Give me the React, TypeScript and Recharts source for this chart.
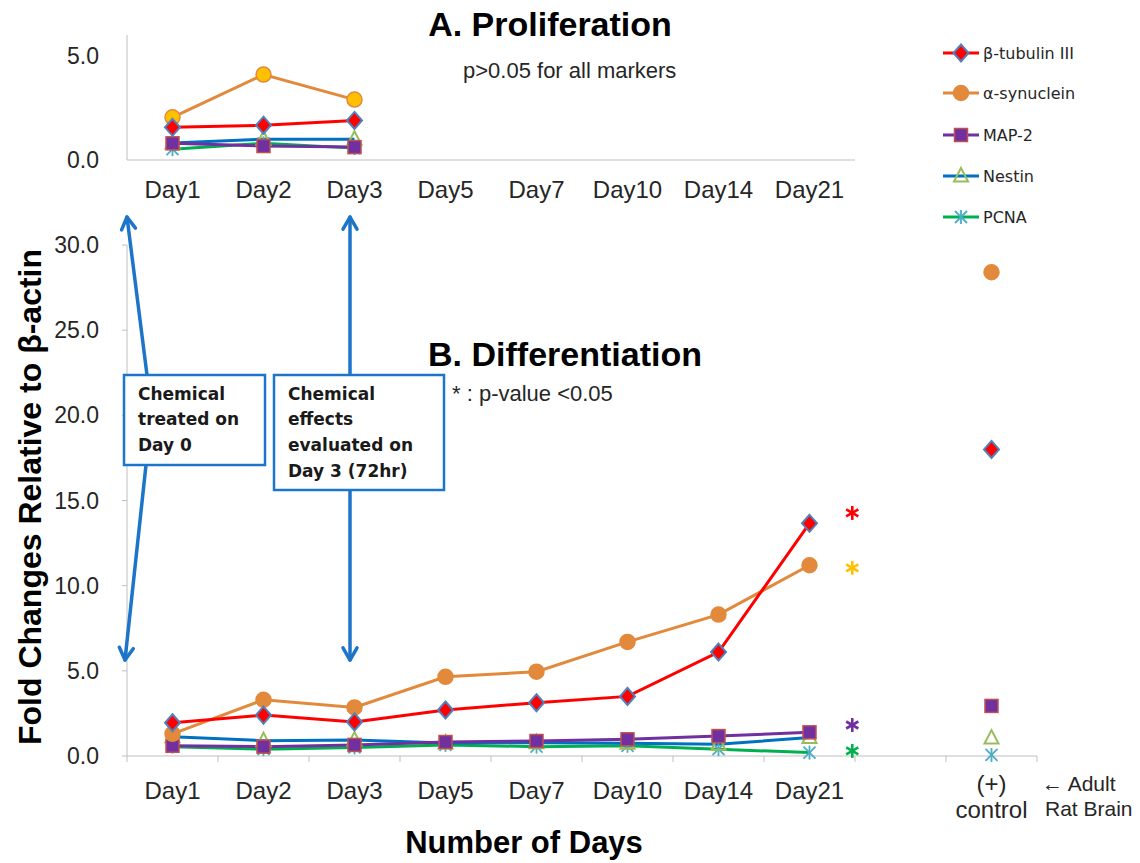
import React from "react";
import {
  ComposedChart,
  LineChart,
  Line,
  Scatter,
  XAxis,
  YAxis,
} from "recharts";

// x-axis categories
const DAYS = ["Day1", "Day2", "Day3", "Day5", "Day7", "Day10", "Day14", "Day21"];
const CONTROL_LABEL = ["(+)", "control"];

// A. Proliferation (Day1-Day3 only)
const prolifTubulin = [1.57, 1.67, 1.9];
const prolifSynuclein = [2.05, 4.1, 2.9];
const prolifMap2 = [0.8, 0.67, 0.62];
const prolifNestin = [0.82, 1.0, 1.0];
const prolifPcna = [0.52, 0.8, 0.57];

// B. Differentiation
const diffTubulin = [1.95, 2.4, 2.0, 2.7, 3.13, 3.5, 6.1, 13.66];
const diffSynuclein = [1.3, 3.3, 2.85, 4.65, 4.95, 6.7, 8.3, 11.2];
const diffMap2 = [0.6, 0.55, 0.65, 0.82, 0.88, 0.98, 1.17, 1.39];
const diffNestin = [1.13, 0.9, 0.94, 0.76, 0.78, 0.75, 0.69, 1.08];
const diffPcna = [0.55, 0.4, 0.5, 0.65, 0.55, 0.6, 0.4, 0.2];

// (+) control: adult rat brain
const controlValues = { tubulin: 18.0, synuclein: 28.4, map2: 2.94, nestin: 1.05, pcna: 0.06 };

// significance asterisks next to Day21
const starValues = [14.27, 11.05, 1.82, 0.3];
const starColors = ["#FF0000", "#FFC000", "#7030A0", "#00B050"];

const SERIES = [
  { key: "tubulin", name: "β-tubulin III", color: "#FF0000", shape: "diamond" },
  { key: "synuclein", name: "α-synuclein", color: "#E2893B", shape: "circle" },
  { key: "map2", name: "MAP-2", color: "#7030A0", shape: "square" },
  { key: "nestin", name: "Nestin", color: "#0070C0", shape: "triangle" },
  { key: "pcna", name: "PCNA", color: "#00B050", shape: "star" },
];

const W = 1140;
const H = 863;
const PLOT_LEFT = 127;
const PLOT_RIGHT = 1037;
const TOP_RIGHT = 855;
const BAND = (PLOT_RIGHT - PLOT_LEFT) / 10;
const STAR_X = 7.97;
const AXIS_GRAY = "#BFBFBF";
const TEXT = "#262626";
const ARROW_BLUE = "#1C75C8";

const topData = DAYS.slice(0, 3).map((d, i) => ({
  x: i + 0.5,
  tubulin: prolifTubulin[i],
  synuclein: prolifSynuclein[i],
  map2: prolifMap2[i],
  nestin: prolifNestin[i],
  pcna: prolifPcna[i],
}));

const bottomData = [
  ...DAYS.map((d, i) => ({
    x: i + 0.5,
    tubulin: diffTubulin[i],
    synuclein: diffSynuclein[i],
    map2: diffMap2[i],
    nestin: diffNestin[i],
    pcna: diffPcna[i],
  })),
  { x: 8.5, tubulin: null, synuclein: null, map2: null, nestin: null, pcna: null },
  { x: 9.5, ...controlValues },
];

const starData = starValues.map((v, i) => ({ x: STAR_X, y: v, color: starColors[i] }));

function Marker({ shape, cx, cy, top }: any) {
  if (shape === "diamond")
    return (
      <polygon
        points={`${cx},${cy - 8.5} ${cx + 7.5},${cy} ${cx},${cy + 8.5} ${cx - 7.5},${cy}`}
        fill="#FF0000"
        stroke="#4F81BD"
        strokeWidth={2}
      />
    );
  if (shape === "circle")
    return (
      <circle cx={cx} cy={cy} r={7.5} fill={top ? "#FFC000" : "#E2893B"} stroke="#E2893B" strokeWidth={1.5} />
    );
  if (shape === "square")
    return <rect x={cx - 6.5} y={cy - 6.5} width={13} height={13} fill="#7030A0" stroke="#C0504D" strokeWidth={1.5} />;
  if (shape === "triangle")
    return (
      <polygon
        points={`${cx},${cy - 8} ${cx + 7},${cy + 5.5} ${cx - 7},${cy + 5.5}`}
        fill="none"
        stroke="#9BBB59"
        strokeWidth={2}
      />
    );
  return (
    <g stroke="#4BACC6" strokeWidth={1.8}>
      <line x1={cx - 6} y1={cy - 6} x2={cx + 6} y2={cy + 6} />
      <line x1={cx - 6} y1={cy + 6} x2={cx + 6} y2={cy - 6} />
      <line x1={cx} y1={cy - 7} x2={cx} y2={cy + 7} />
    </g>
  );
}

function Asterisk({ cx, cy, color }: any) {
  const r = 7;
  return (
    <g stroke={color} strokeWidth={2.6}>
      <line x1={cx} y1={cy - r} x2={cx} y2={cy + r} />
      <line x1={cx - r * 0.87} y1={cy - r / 2} x2={cx + r * 0.87} y2={cy + r / 2} />
      <line x1={cx - r * 0.87} y1={cy + r / 2} x2={cx + r * 0.87} y2={cy - r / 2} />
    </g>
  );
}

const dotFor = (s: any, top: boolean) => (p: any) => {
  const k = `${top ? "t" : "b"}-${s.key}-${p.index}`;
  if (p.value == null || p.cy == null || isNaN(p.cy)) return <g key={k} />;
  return (
    <g key={k}>
      <Marker shape={s.shape} cx={p.cx} cy={p.cy} top={top} />
    </g>
  );
};

function BottomTick(props: any) {
  const { x, y, payload } = props;
  const i = Math.round(payload.value);
  const cx = x + BAND / 2;
  const style = { fontFamily: "Liberation Sans, Arial, sans-serif", fontSize: 24, fill: TEXT };
  if (i < DAYS.length)
    return (
      <text x={cx} y={y + 35} textAnchor="middle" style={style}>
        {DAYS[i]}
      </text>
    );
  if (i === 9)
    return (
      <g>
        <text x={cx} y={y + 28} textAnchor="middle" style={style}>
          {CONTROL_LABEL[0]}
        </text>
        <text x={cx} y={y + 54} textAnchor="middle" style={style}>
          {CONTROL_LABEL[1]}
        </text>
      </g>
    );
  return <g />;
}

function Arrow({ x1, y1, x2, y2 }: any) {
  const a = Math.atan2(y2 - y1, x2 - x1);
  const L = 14;
  const s = (Math.PI * 5) / 6;
  const p1 = [x2 + L * Math.cos(a + s), y2 + L * Math.sin(a + s)];
  const p2 = [x2 + L * Math.cos(a - s), y2 + L * Math.sin(a - s)];
  return (
    <g stroke={ARROW_BLUE} strokeWidth={3.5} fill="none" strokeLinecap="round" strokeLinejoin="round">
      <line x1={x1} y1={y1} x2={x2} y2={y2} />
      <polyline points={`${p1[0]},${p1[1]} ${x2},${y2} ${p2[0]},${p2[1]}`} />
    </g>
  );
}

function Overlay() {
  const title = { fontFamily: "Liberation Sans, Arial, sans-serif", fontWeight: 700, fontSize: 34, fill: "#000" };
  const note = { fontFamily: "Liberation Sans, Arial, sans-serif", fontSize: 22, fill: TEXT };
  const boxText = { fontFamily: "DejaVu Sans, sans-serif", fontWeight: 700, fontSize: 17, fill: "#1a1a1a" };
  const axisTitle = { fontFamily: "Liberation Sans, Arial, sans-serif", fontWeight: 700, fontSize: 31, fill: "#000" };
  const legendRows = [53, 93, 135, 176, 217];
  return (
    <svg width={W} height={H} style={{ position: "absolute", left: 0, top: 0, pointerEvents: "none" }}>
      <text x={550} y={36} textAnchor="middle" style={title}>
        A. Proliferation
      </text>
      <text x={463} y={78} style={note}>
        p&gt;0.05 for all markers
      </text>
      <text x={565} y={366} textAnchor="middle" style={title}>
        B. Differentiation
      </text>
      <text x={452} y={401} style={note}>
        * : p-value &lt;0.05
      </text>

      <Arrow x1={147} y1={375} x2={127} y2={217} />
      <Arrow x1={146} y1={465} x2={125} y2={660} />
      <Arrow x1={350} y1={375} x2={350} y2={217} />
      <Arrow x1={350} y1={490} x2={350} y2={660} />

      <rect x={124} y={375} width={141} height={90} fill="#fff" stroke={ARROW_BLUE} strokeWidth={2.5} />
      <text style={boxText}>
        <tspan x={138} y={400}>Chemical</tspan>
        <tspan x={138} y={425}>treated on</tspan>
        <tspan x={138} y={451}>Day 0</tspan>
      </text>
      <rect x={274} y={375} width={170} height={115} fill="#fff" stroke={ARROW_BLUE} strokeWidth={2.5} />
      <text style={boxText}>
        <tspan x={288} y={400}>Chemical</tspan>
        <tspan x={288} y={425}>effects</tspan>
        <tspan x={288} y={451}>evaluated on</tspan>
        <tspan x={288} y={477}>Day 3 (72hr)</tspan>
      </text>

      <text transform="translate(41,497) rotate(-90)" textAnchor="middle" style={{ ...axisTitle, fontSize: 32 }}>
        Fold Changes Relative to β-actin
      </text>
      <text x={524} y={853} textAnchor="middle" style={axisTitle}>
        Number of Days
      </text>

      <text x={1042} y={791} style={{ fontFamily: "Liberation Sans, Arial, sans-serif", fontSize: 21, fill: TEXT }}>
        ← Adult
      </text>
      <text x={1045} y={816} style={{ fontFamily: "Liberation Sans, Arial, sans-serif", fontSize: 21, fill: TEXT }}>
        Rat Brain
      </text>

      {SERIES.map((s, i) => (
        <g key={s.key}>
          <line x1={943} y1={legendRows[i]} x2={979} y2={legendRows[i]} stroke={s.color} strokeWidth={3} />
          <Marker shape={s.shape} cx={961} cy={legendRows[i]} top={false} />
          <text
            x={983}
            y={legendRows[i] + 6}
            style={{ fontFamily: "DejaVu Sans, sans-serif", fontSize: 16, fill: TEXT }}
          >
            {s.name}
          </text>
        </g>
      ))}
    </svg>
  );
}

const tickStyle = { fontFamily: "Liberation Sans, Arial, sans-serif", fontSize: 23, fill: TEXT };
const drawOrder = [...SERIES].reverse();

export default function App() {
  return (
    <div style={{ position: "absolute", left: 0, top: 0, width: W, height: H, background: "#fff" }}>
      <div style={{ position: "absolute", left: 0, top: 0 }}>
        <ComposedChart
          width={W}
          height={H}
          data={bottomData}
          margin={{ top: 245, left: PLOT_LEFT - 60, right: W - PLOT_RIGHT, bottom: H - 756 - 30 }}
        >
          <XAxis
            type="number"
            dataKey="x"
            domain={[0, 10]}
            ticks={[0, 1, 2, 3, 4, 5, 6, 7, 8, 9, 10]}
            interval={0}
            height={30}
            stroke={AXIS_GRAY}
            tickSize={6}
            tickMargin={2}
            tick={<BottomTick />}
          />
          <YAxis
            type="number"
            domain={[0, 30]}
            ticks={[0, 5, 10, 15, 20, 25, 30]}
            width={60}
            stroke={AXIS_GRAY}
            tickSize={5}
            tickMargin={23}
            tick={tickStyle}
            tickFormatter={(v: number) => v.toFixed(1)}
          />
          {drawOrder.map((s) => (
            <Line
              key={s.key}
              dataKey={s.key}
              name={s.name}
              stroke={s.color}
              strokeWidth={3}
              type="linear"
              connectNulls={false}
              isAnimationActive={false}
              dot={dotFor(s, false)}
              activeDot={false}
            />
          ))}
          <Scatter
            data={starData}
            dataKey="y"
            isAnimationActive={false}
            shape={(p: any) => <Asterisk cx={p.cx} cy={p.cy} color={p.payload.color} />}
          />
        </ComposedChart>
      </div>
      <div style={{ position: "absolute", left: 0, top: 0 }}>
        <LineChart
          width={W}
          height={215}
          data={topData}
          margin={{ top: 35, left: PLOT_LEFT - 60, right: W - TOP_RIGHT, bottom: 215 - 160 - 30 }}
        >
          <XAxis
            type="number"
            dataKey="x"
            domain={[0, 8]}
            ticks={[0.5, 1.5, 2.5, 3.5, 4.5, 5.5, 6.5, 7.5]}
            interval={0}
            height={30}
            stroke={AXIS_GRAY}
            tickLine={false}
            tickSize={6}
            tickMargin={15}
            tick={{ ...tickStyle, fontSize: 24 }}
            tickFormatter={(v: number) => DAYS[Math.floor(v)]}
          />
          <YAxis
            type="number"
            domain={[0, 6]}
            ticks={[0, 5]}
            width={60}
            stroke={AXIS_GRAY}
            tickLine={false}
            tickSize={6}
            tickMargin={22}
            tick={tickStyle}
            tickFormatter={(v: number) => v.toFixed(1)}
          />
          {drawOrder.map((s) => (
            <Line
              key={s.key}
              dataKey={s.key}
              name={s.name}
              stroke={s.color}
              strokeWidth={3}
              type="linear"
              isAnimationActive={false}
              dot={dotFor(s, true)}
              activeDot={false}
            />
          ))}
        </LineChart>
      </div>
      <Overlay />
    </div>
  );
}
